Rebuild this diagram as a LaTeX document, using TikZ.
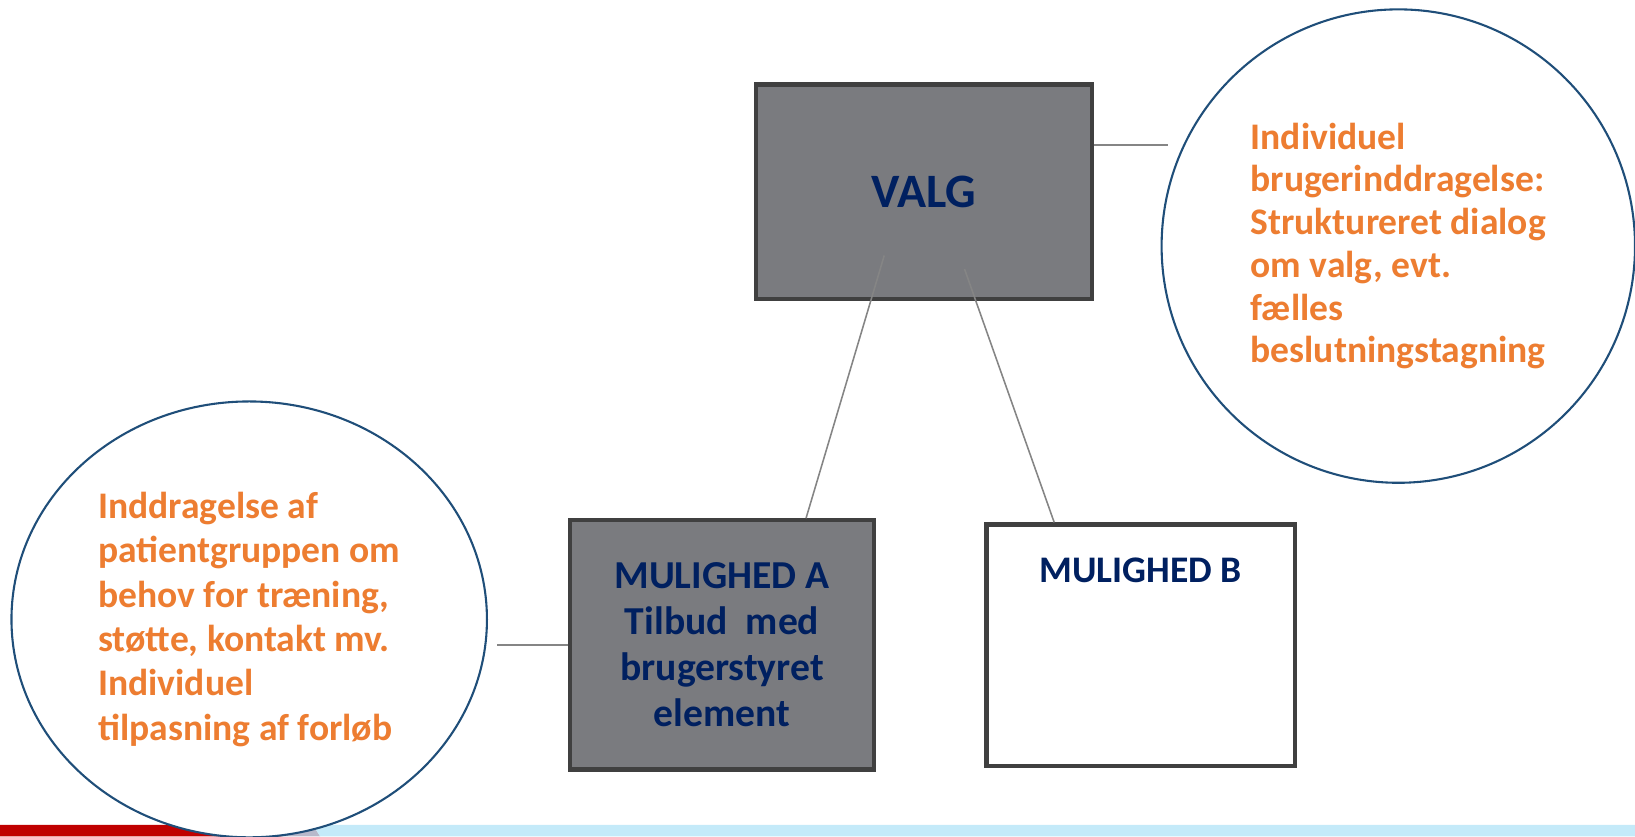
\documentclass[tikz,border=0pt]{standalone}
\usepackage{fontspec}
\setmainfont{Carlito}
\usepackage{xcolor}
\usetikzlibrary{shapes.geometric}
\usetikzlibrary{positioning}
\definecolor{boxfill}{HTML}{7A7B7F}
\definecolor{boxedge}{HTML}{404040}
\definecolor{navytxt}{HTML}{002060}
\definecolor{orangetxt}{HTML}{ED7D31}
\definecolor{bubbleedge}{HTML}{1F4E79}
\definecolor{linkgray}{HTML}{858585}
\definecolor{barred}{HTML}{C00000}
\definecolor{barblue}{HTML}{C4EAF9}
\definecolor{barmid}{HTML}{B7B9CB}

\begin{document}
\begin{tikzpicture}[x=1pt, y=-1pt,
		box/.style={draw=boxedge, line width=4pt, inner sep=0pt, text=navytxt, align=center, font=\bfseries\fontsize{38}{44}\selectfont},
		bubble/.style={draw=bubbleedge, line width=2pt, fill=white, inner sep=0pt, text=orangetxt, align=left, font=\bfseries\fontsize{36}{41}\selectfont},
		link/.style={draw=linkgray, line width=1.5pt}]
		\useasboundingbox (0,0) rectangle (1568,802);
		\begin{scope}
			\fill[barred] (0,791) -- (262,791) -- (270,802) -- (0,802) -- cycle;
			\fill[barmid] (262,791) -- (300,791) -- (307,802) -- (270,802) -- cycle;
			\fill[barblue] (300,791) -- (1568,791) -- (1568,802) -- (307,802) -- cycle;
		\end{scope}
		\node[box, fill=boxfill, minimum width=322pt, minimum height=206pt, font=\bfseries\fontsize{46}{52}\selectfont] (valg) at (886,184) {VALG};
		\node[box, fill=boxfill, minimum width=291pt, minimum height=239pt] (mulA) at (692.5,618.5) {MULIGHED A\\Tilbud\ \ med\\brugerstyret\\element};
		\node[box, fill=white, minimum width=296pt, minimum height=232pt] (mulB) at (1094,619) {};
		\node[text=navytxt, inner sep=0pt, font=\bfseries\fontsize{36}{44}\selectfont, below=34pt of mulB.north] (mulBtxt) {MULIGHED B};
		\node[bubble, circle, minimum size=454pt] (rightc) at (1341,236) {Individuel\\brugerinddragelse:\\Struktureret dialog\\om valg, evt.\\fælles\\beslutningstagning};
		\node[bubble, ellipse, minimum width=456pt, minimum height=418pt, font=\bfseries\fontsize{36}{42.5}\selectfont] (leftc) at (239,594) {Inddragelse af\\patientgruppen om\\behov for træning,\\støtte, kontakt mv.\\Individuel\\tilpasning af forløb};
		\coordinate (valgA) at (848,245);
		\coordinate (valgB) at (925,258);
		\coordinate (rightend) at (1120,139);
		\coordinate (leftend) at (477,618.5);
		\draw[link] (valgA) -- (mulA.north -| 773,0);
		\draw[link] (valgB) -- (mulB.north -| 1011,0);
		\draw[link] (valg.east |- rightend) -- (rightend);
		\draw[link] (mulA.west) -- (leftend);
	\end{tikzpicture}
\end{document}
